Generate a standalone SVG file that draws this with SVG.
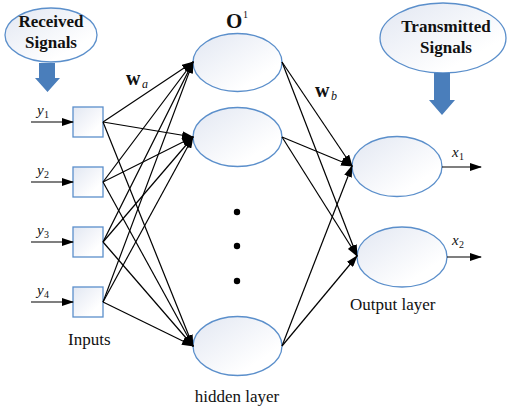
<svg xmlns="http://www.w3.org/2000/svg" width="508" height="409" viewBox="0 0 508 409">
<defs>
<linearGradient id="g" x1="0" y1="0" x2="1" y2="1">
<stop offset="0" stop-color="#e2e7f2"/>
<stop offset="0.75" stop-color="#ffffff"/>
</linearGradient>
<marker id="ah" markerWidth="12" markerHeight="8" refX="11" refY="4" orient="auto" markerUnits="userSpaceOnUse">
<path d="M0,0 L12,4 L0,8 Z" fill="#000"/>
</marker>
<style>
.n{fill:url(#g);stroke:#5b8fcb;stroke-width:1.3}
.c{stroke:#000;stroke-width:1.2;fill:none;marker-end:url(#ah)}
.b{font-family:"Liberation Serif",serif;font-weight:bold;font-size:17px;text-anchor:middle;fill:#111}
.t{font-family:"Liberation Serif",serif;font-size:17px;fill:#111}
.i{font-family:"Liberation Serif",serif;font-style:italic;font-size:15px;fill:#111}
.s{font-family:"Liberation Serif",serif;font-size:10px;fill:#111}
.bl{fill:#4a7ebb}
</style>
</defs>
<rect width="508" height="409" fill="#fff"/>

<g id="received">
<ellipse class="n" cx="51" cy="35" rx="46" ry="27"/>
<text class="b" x="51" y="27">Received</text>
<text class="b" x="51" y="48">Signals</text>
<path class="bl" d="M39,63 H55 V78 H60 L47.5,92 L35,78 H39 Z"/>
</g>

<g id="transmitted">
<ellipse class="n" cx="443" cy="38" rx="63" ry="35"/>
<text class="b" x="446" y="32">Transmitted</text>
<text class="b" x="446" y="53">Signals</text>
<path class="bl" d="M434,73 H450 V100 H455 L442,115 L429,100 H434 Z"/>
</g>

<g id="in1"><rect class="n" x="73" y="107" width="30" height="30"/><text class="i" x="37" y="115">y</text><text class="s" x="44" y="118">1</text></g>
<g id="in2"><rect class="n" x="73" y="167" width="30" height="30"/><text class="i" x="37" y="175">y</text><text class="s" x="44" y="178">2</text></g>
<g id="in3"><rect class="n" x="73" y="227" width="30" height="30"/><text class="i" x="37" y="235">y</text><text class="s" x="44" y="238">3</text></g>
<g id="in4"><rect class="n" x="73" y="287" width="30" height="30"/><text class="i" x="37" y="295">y</text><text class="s" x="44" y="298">4</text></g>

<g id="h1"><ellipse class="n" cx="237.5" cy="62.5" rx="44.5" ry="29"/></g>
<g id="h2"><ellipse class="n" cx="237.5" cy="137" rx="44.5" ry="29.5"/></g>
<g id="h3"><ellipse class="n" cx="237.5" cy="346" rx="44.5" ry="29.5"/></g>

<g id="o1"><ellipse class="n" cx="397" cy="166.5" rx="45" ry="30"/></g>
<g id="o2"><ellipse class="n" cx="402" cy="257" rx="45" ry="30"/></g>

<g id="dots" fill="#000">
<circle cx="237" cy="212" r="3.2"/>
<circle cx="237" cy="246" r="3.2"/>
<circle cx="237" cy="281" r="3.2"/>
</g>

<g id="connectors">
<line class="c" x1="31" y1="122" x2="73" y2="122"/>
<line class="c" x1="31" y1="182" x2="73" y2="182"/>
<line class="c" x1="31" y1="242" x2="73" y2="242"/>
<line class="c" x1="31" y1="302" x2="73" y2="302"/>

<line class="c" x1="103" y1="122" x2="193" y2="62"/>
<line class="c" x1="103" y1="122" x2="193" y2="137"/>
<line class="c" x1="103" y1="122" x2="193" y2="346"/>
<line class="c" x1="103" y1="182" x2="193" y2="62"/>
<line class="c" x1="103" y1="182" x2="193" y2="137"/>
<line class="c" x1="103" y1="182" x2="193" y2="346"/>
<line class="c" x1="103" y1="242" x2="193" y2="62"/>
<line class="c" x1="103" y1="242" x2="193" y2="137"/>
<line class="c" x1="103" y1="242" x2="193" y2="346"/>
<line class="c" x1="103" y1="302" x2="193" y2="62"/>
<line class="c" x1="103" y1="302" x2="193" y2="137"/>
<line class="c" x1="103" y1="302" x2="193" y2="346"/>

<line class="c" x1="282" y1="62" x2="352" y2="166"/>
<line class="c" x1="282" y1="62" x2="357" y2="256"/>
<line class="c" x1="282" y1="137" x2="352" y2="166"/>
<line class="c" x1="282" y1="137" x2="357" y2="256"/>
<line class="c" x1="282" y1="346" x2="352" y2="166"/>
<line class="c" x1="282" y1="346" x2="357" y2="256"/>

<line class="c" x1="442" y1="167" x2="481" y2="167"/>
<line class="c" x1="447" y1="257" x2="481" y2="257"/>
</g>

<g id="labels">
<text x="226" y="28" font-family="Liberation Serif,serif" font-weight="bold" font-size="21" fill="#111">O</text>
<text x="243" y="18" font-family="Liberation Serif,serif" font-size="10" fill="#111">1</text>
<text x="126" y="85" font-family="Liberation Serif,serif" font-weight="bold" font-size="20" fill="#111">w</text>
<text x="142" y="88" font-family="Liberation Serif,serif" font-style="italic" font-size="12" fill="#111">a</text>
<text x="315" y="97" font-family="Liberation Serif,serif" font-weight="bold" font-size="20" fill="#111">w</text>
<text x="331" y="100" font-family="Liberation Serif,serif" font-style="italic" font-size="12" fill="#111">b</text>
<text class="i" x="452" y="157">x</text><text class="s" x="459" y="160">1</text>
<text class="i" x="452" y="245">x</text><text class="s" x="459" y="248">2</text>
<text class="t" x="68" y="345">Inputs</text>
<text class="t" x="350" y="310">Output layer</text>
<text class="t" x="237" y="402" text-anchor="middle">hidden layer</text>
</g>
</svg>
